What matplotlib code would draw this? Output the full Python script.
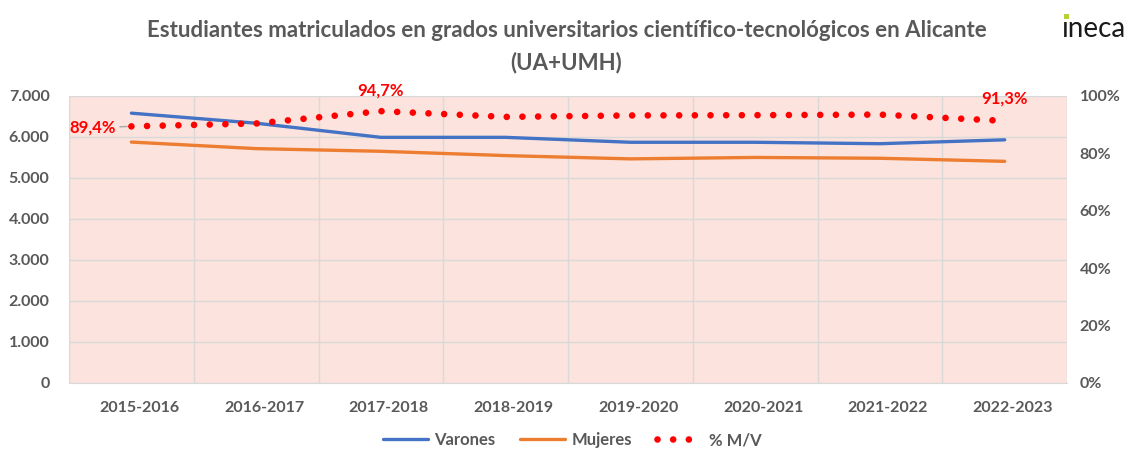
import matplotlib
matplotlib.use("Agg")
import matplotlib.pyplot as plt
import matplotlib.transforms as mtransforms
from matplotlib.ticker import FuncFormatter, PercentFormatter, MultipleLocator
from matplotlib.patches import Rectangle
import numpy as np

plt.rcParams['font.family'] = ['Lato', 'DejaVu Sans']

cursos = ["2015-2016", "2016-2017", "2017-2018", "2018-2019",
          "2019-2020", "2020-2021", "2021-2022", "2022-2023"]
varones = [6580, 6335, 5990, 5990, 5870, 5870, 5835, 5930]
mujeres = [5875, 5715, 5650, 5545, 5465, 5500, 5480, 5405]
ratio_mv = [89.4, 90.4, 94.7, 92.7, 93.2, 93.3, 93.5, 91.3]

grey = "#595959"
pink = "#FDE3DD"
x = np.arange(len(cursos))

fig = plt.figure(figsize=(11.33, 4.5), dpi=100)
ax = fig.add_axes([0.0609, 0.149, 0.8809, 0.6378])
ax.set_facecolor(pink)

ax.plot(x, varones, color="#4472C4", lw=2.4, solid_capstyle="round", label="Varones", zorder=3)
ax.plot(x, mujeres, color="#ED7D31", lw=2.4, solid_capstyle="round", label="Mujeres", zorder=3)

ax.set_xlim(-0.5, len(cursos) - 0.5)
ax.set_ylim(0, 7000)
ax.yaxis.set_major_locator(MultipleLocator(1000))
ax.yaxis.set_major_formatter(FuncFormatter(lambda v, p: f"{int(v):,}".replace(",", ".")))
ax.set_xticks(x)
ax.set_xticklabels(cursos)
ax.set_xticks(np.arange(-0.5, len(cursos), 1), minor=True)
ax.grid(axis="y", which="major", color="#D9D9D9", lw=1)
ax.grid(axis="x", which="minor", color="#D9D9D9", lw=1)
ax.set_axisbelow(True)
ax.tick_params(axis="both", which="both", length=0)
ax.tick_params(axis="y", pad=14, labelsize=11.5, labelcolor=grey)
ax.tick_params(axis="x", pad=13, labelsize=11.5, labelcolor=grey)
for lab in ax.get_xticklabels() + ax.get_yticklabels():
    lab.set_fontweight("bold")
shift = mtransforms.ScaledTranslation(8 / 100, 0, fig.dpi_scale_trans)
for lab in ax.get_xticklabels():
    lab.set_transform(lab.get_transform() + shift)
for s in ax.spines.values():
    s.set_visible(False)
ax.spines["bottom"].set_visible(True)
ax.spines["bottom"].set_color("#D9D9D9")

ax2 = ax.twinx()
ax2.plot(x, ratio_mv, color="#FF0000", lw=4.8, linestyle=(0, (0.001, 2.35)),
         dash_capstyle="round", label="% M/V", zorder=4)
ax2.set_ylim(0, 100)
ax2.yaxis.set_major_locator(MultipleLocator(20))
ax2.yaxis.set_major_formatter(PercentFormatter(decimals=0))
ax2.tick_params(axis="y", length=0, pad=9, labelsize=11.5, labelcolor=grey)
for lab in ax2.get_yticklabels():
    lab.set_fontweight("bold")
for s in ax2.spines.values():
    s.set_visible(False)

red_kw = dict(color="#FF0000", fontsize=12, fontweight="bold")
ax2.annotate("89,4%", xy=(x[0], ratio_mv[0]), xytext=(-28, -1), textcoords="offset points",
             ha="center", va="center",
             arrowprops=dict(arrowstyle="-", color="#A6A6A6", lw=1, shrinkA=1, shrinkB=3), **red_kw)
ax2.annotate("94,7%", xy=(x[2], ratio_mv[2]), xytext=(0, 15), textcoords="offset points",
             ha="center", va="center", **red_kw)
ax2.annotate("91,3%", xy=(x[7], ratio_mv[7]), xytext=(0, 16), textcoords="offset points",
             ha="center", va="center", **red_kw)

fig.text(0.5, 0.933, "Estudiantes matriculados en grados universitarios científico-tecnológicos en Alicante",
         ha="center", va="center", fontsize=16, fontweight="bold", color=grey)
fig.text(0.5, 0.862, "(UA+UMH)", ha="center", va="center", fontsize=16, fontweight="bold", color=grey)

# logo
logo = fig.text(0.9375, 0.935, "ıneca", ha="left", va="center", fontsize=20, color="#1A1A1A")
fig.canvas.draw()
bb = logo.get_window_extent()
fig.patches.append(Rectangle(((bb.x0 + 1.5) / 1133, (450 - 19) / 450), 5 / 1133, 5 / 450,
                             transform=fig.transFigure, facecolor="#B5D334", edgecolor="none",
                             zorder=5))

h1, l1 = ax.get_legend_handles_labels()
h2, l2 = ax2.get_legend_handles_labels()
leg = fig.legend(h1 + h2, l1 + l2, loc="center", bbox_to_anchor=(0.505, 0.022), ncol=3,
                 frameon=False, handlelength=2.7, columnspacing=1.5, handletextpad=0.4,
                 prop=dict(size=12, weight="bold"))
for t in leg.get_texts():
    t.set_color(grey)

fig.savefig("out.png", dpi=100)
